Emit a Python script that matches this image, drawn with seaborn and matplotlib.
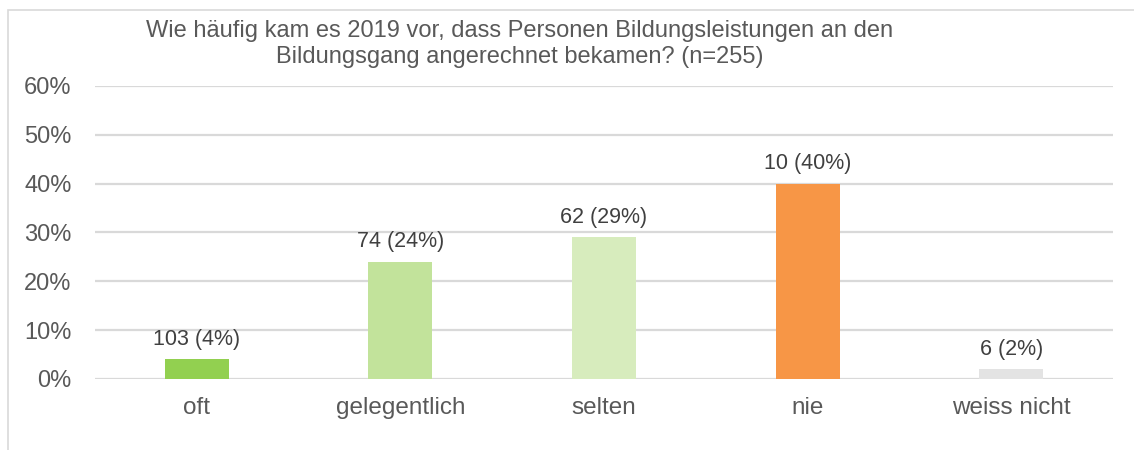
import matplotlib
matplotlib.use("Agg")
import matplotlib.pyplot as plt
import matplotlib.ticker as mticker
import matplotlib.patches as mpatches
import pandas as pd
import seaborn as sns

sns.set_style("white")
plt.rcParams['font.family'] = ['Liberation Sans', 'DejaVu Sans']

categories = ['oft', 'gelegentlich', 'selten', 'nie', 'weiss nicht']
shares = [4, 24, 29, 40, 2]
counts = [103, 74, 62, 10, 6]
colors = ['#92D050', '#C2E39B', '#D7ECBD', '#F79646', '#E3E3E3']
title = ('Wie häufig kam es 2019 vor, dass Personen Bildungsleistungen an den\n'
         'Bildungsgang angerechnet bekamen? (n=255)')

df = pd.DataFrame({'cat': categories, 'share': shares})

fig = plt.figure(figsize=(11.34, 4.5), dpi=100)
ax = fig.add_axes([0.0838, 0.1578, 0.8977, 0.6511])

# light frame like the exported chart border
fig.patches.append(mpatches.Rectangle((8 / 1134, -0.1), 1.2, 1 - 10 / 450 + 0.1,
                                      transform=fig.transFigure, fill=False,
                                      edgecolor='#D9D9D9', linewidth=1.2, zorder=0))

sns.barplot(data=df, x='cat', y='share', hue='cat', palette=colors, legend=False,
            width=0.315, saturation=1, linewidth=0, ax=ax, zorder=3)

ax.set_ylim(0, 60)
ax.set_xlim(-0.5, 4.5)
ax.yaxis.set_major_locator(mticker.MultipleLocator(10))
ax.yaxis.set_major_formatter(mticker.FuncFormatter(lambda v, p: f'{v:.0f}%'))
ax.grid(axis='y', color='#D9D9D9', linewidth=1.6, zorder=0)
ax.set_axisbelow(True)
for s in ax.spines.values():
    s.set_visible(False)
ax.tick_params(axis='y', length=0, pad=17, labelsize=17, labelcolor='#595959')
ax.tick_params(axis='x', length=0, pad=13, labelsize=17.5, labelcolor='#595959')
ax.set_xlabel('')
ax.set_ylabel('')

for i, (v, n) in enumerate(zip(shares, counts)):
    ax.annotate(f'{n} ({v}%)', (i, v), xytext=(0, 7), textcoords='offset points',
                ha='center', va='bottom', fontsize=15.5, color='#404040')

fig.text(520 / 1134, 1 - 44 / 450, title, ha='center', va='center',
         fontsize=17, color='#595959', linespacing=1.2)

fig.savefig('out.png', dpi=100, facecolor='white')
